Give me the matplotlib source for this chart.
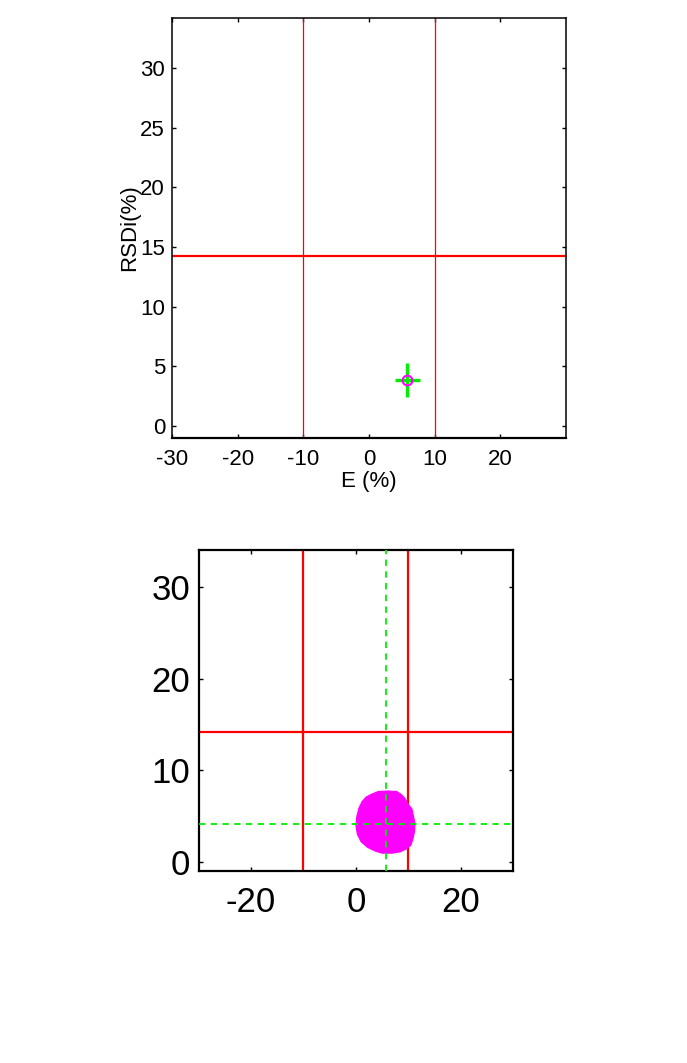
import matplotlib
matplotlib.use("Agg")
import matplotlib.pyplot as plt

plt.rcParams['font.family'] = ['Liberation Sans', 'DejaVu Sans']
plt.rcParams['axes.unicode_minus'] = False

# ---- data ----
x_limits = [-10, 10]          # E (%) acceptance limits
rsd_limit = 14.2              # RSDi (%) limit

# top panel: mean point with spread
point_e = [5.84]
point_rsd = [3.85]
point_e_err = [1.95]
point_rsd_err = [1.43]

# bottom panel: outline of simulated cloud
cloud_e = [3.0, 4.3, 6.0, 7.8, 8.6, 9.3, 10.0, 10.7, 11.0, 11.3, 11.2, 10.9, 10.5, 9.6,
           8.5, 7.0, 5.0, 3.6, 2.2, 1.0, 0.3, 0.0, 0.2, 0.6, 1.2, 2.0]
cloud_rsd = [7.4, 7.7, 7.75, 7.7, 7.4, 7.0, 6.3, 5.8, 5.0, 4.2, 3.3, 2.5, 1.8, 1.4,
             1.1, 0.95, 0.95, 1.2, 1.6, 2.2, 3.0, 4.0, 5.0, 5.9, 6.6, 7.1]
cloud_center_e = 5.7
cloud_center_rsd = 4.1

top_xticks = [-30, -20, -10, 0, 10, 20]
top_yticks = [0, 5, 10, 15, 20, 25, 30]
bot_xticks = [-20, 0, 20]
bot_yticks = [0, 10, 20, 30]

fig = plt.figure(figsize=(6.87, 10.63), dpi=100)

# ---- top panel ----
ax1 = fig.add_axes([0.2504, 0.5882, 0.5735, 0.3949])
ax1.set_xlim(-30, 30)
ax1.set_ylim(-1, 34.2)
for xv in x_limits:
    ax1.axvline(xv, color='#ff0000', lw=0.9)
ax1.axhline(rsd_limit, color='#ff0000', lw=1.6)
ax1.errorbar(point_e, point_rsd, xerr=point_e_err, yerr=point_rsd_err, fmt='none',
             ecolor='#00ee00', elinewidth=2.4, capsize=0)
ax1.plot(point_e, point_rsd, 'o', mfc='none', mec='#ff00ff', ms=7, mew=1.5)
ax1.set_xticks(top_xticks)
ax1.set_yticks(top_yticks)
ax1.tick_params(direction='in', length=3, width=1, top=True, right=True,
                labelsize=16, pad=5)
ax1.tick_params(axis='x', pad=8)
for s in ax1.spines.values():
    s.set_linewidth(1.1)
ax1.spines['bottom'].set_linewidth(1.6)
ax1.set_xlabel('E (%)', fontsize=16, labelpad=1)
ax1.set_ylabel('RSDi(%)', fontsize=16, labelpad=0)

# ---- bottom panel ----
ax2 = fig.add_axes([0.2892, 0.1806, 0.4575, 0.302])
ax2.set_xlim(-30, 30)
ax2.set_ylim(-1, 34.1)
for xv in x_limits:
    ax2.axvline(xv, color='#ff0000', lw=1.6)
ax2.axhline(rsd_limit, color='#ff0000', lw=1.6)
ax2.fill(cloud_e, cloud_rsd, color='#ff00ff', lw=0.8, ec='#ff00ff', zorder=2)
ax2.axvline(cloud_center_e, color='#00ee00', lw=1.3, ls=(0, (3.5, 3)), zorder=3)
ax2.axhline(cloud_center_rsd, color='#00ee00', lw=1.3, ls=(0, (3.5, 3)), zorder=3)
ax2.set_xticks(bot_xticks)
ax2.set_yticks(bot_yticks)
ax2.tick_params(direction='in', length=3, width=1, top=True, right=True,
                labelsize=25, pad=6)
ax2.tick_params(axis='x', pad=11)
for s in ax2.spines.values():
    s.set_linewidth(1.6)

fig.savefig('out.png', dpi=100)
